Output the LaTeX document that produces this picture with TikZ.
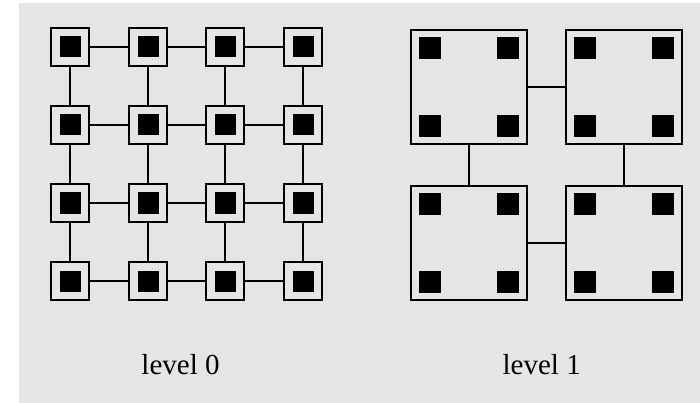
\documentclass[tikz,border=0pt]{standalone}
\usepackage{fontspec}
\setmainfont{Liberation Serif}
\definecolor{paneGray}{HTML}{E5E5E5}
\begin{document}
\begin{tikzpicture}[
			x=1pt, y=-1pt,
			cellbox/.style={rectangle, draw=black, line width=1.6pt, minimum size=38pt, inner sep=0pt,
				path picture={\fill[black] ([shift={(-10.5pt,-10.5pt)}]path picture bounding box.center) rectangle ++(21pt,21pt);}},
			blockbox/.style={rectangle, draw=black, line width=1.6pt, minimum width=116pt, minimum height=114pt, inner sep=0pt,
				path picture={\foreach \dx in {-39,39} \foreach \dy in {-39,39}
					\fill[black] ([shift={(\dx pt-10.75pt,\dy pt-10.75pt)}]path picture bounding box.center) rectangle ++(21.5pt,21.5pt);}},
			link/.style={draw=black, line width=1.6pt},
			levellabel/.style={font=\fontsize{29}{32}\selectfont, anchor=base, inner sep=0pt},
			]
			\useasboundingbox (0,0) rectangle (700,403);
			\fill[paneGray] (19,3) rectangle (700,403);

% level 0
\node[cellbox] (c11) at (70,47) {};
\node[cellbox] (c12) at (148,47) {};
\node[cellbox] (c13) at (225,47) {};
\node[cellbox] (c14) at (303,47) {};
\node[cellbox] (c21) at (70,125) {};
\node[cellbox] (c22) at (148,125) {};
\node[cellbox] (c23) at (225,125) {};
\node[cellbox] (c24) at (303,125) {};
\node[cellbox] (c31) at (70,203) {};
\node[cellbox] (c32) at (148,203) {};
\node[cellbox] (c33) at (225,203) {};
\node[cellbox] (c34) at (303,203) {};
\node[cellbox] (c41) at (70,281) {};
\node[cellbox] (c42) at (148,281) {};
\node[cellbox] (c43) at (225,281) {};
\node[cellbox] (c44) at (303,281) {};
\draw[link] (c11) -- (c12); \draw[link] (c12) -- (c13); \draw[link] (c13) -- (c14);
\draw[link] (c21) -- (c22); \draw[link] (c22) -- (c23); \draw[link] (c23) -- (c24);
\draw[link] (c31) -- (c32); \draw[link] (c32) -- (c33); \draw[link] (c33) -- (c34);
\draw[link] (c41) -- (c42); \draw[link] (c42) -- (c43); \draw[link] (c43) -- (c44);
\draw[link] (c11) -- (c21); \draw[link] (c21) -- (c31); \draw[link] (c31) -- (c41);
\draw[link] (c12) -- (c22); \draw[link] (c22) -- (c32); \draw[link] (c32) -- (c42);
\draw[link] (c13) -- (c23); \draw[link] (c23) -- (c33); \draw[link] (c33) -- (c43);
\draw[link] (c14) -- (c24); \draw[link] (c24) -- (c34); \draw[link] (c34) -- (c44);
\node[levellabel] (lvl0) at (180.5,374) {level 0};

% level 1
\node[blockbox] (b11) at (469,87) {};
\node[blockbox] (b12) at (624,87) {};
\node[blockbox] (b21) at (469,243) {};
\node[blockbox] (b22) at (624,243) {};
\draw[link] (b11) -- (b12);
\draw[link] (b21) -- (b22);
\draw[link] (b11) -- (b21);
\draw[link] (b12) -- (b22);
\node[levellabel] (lvl1) at (541.7,374) {level 1};

        \end{tikzpicture}
\end{document}
